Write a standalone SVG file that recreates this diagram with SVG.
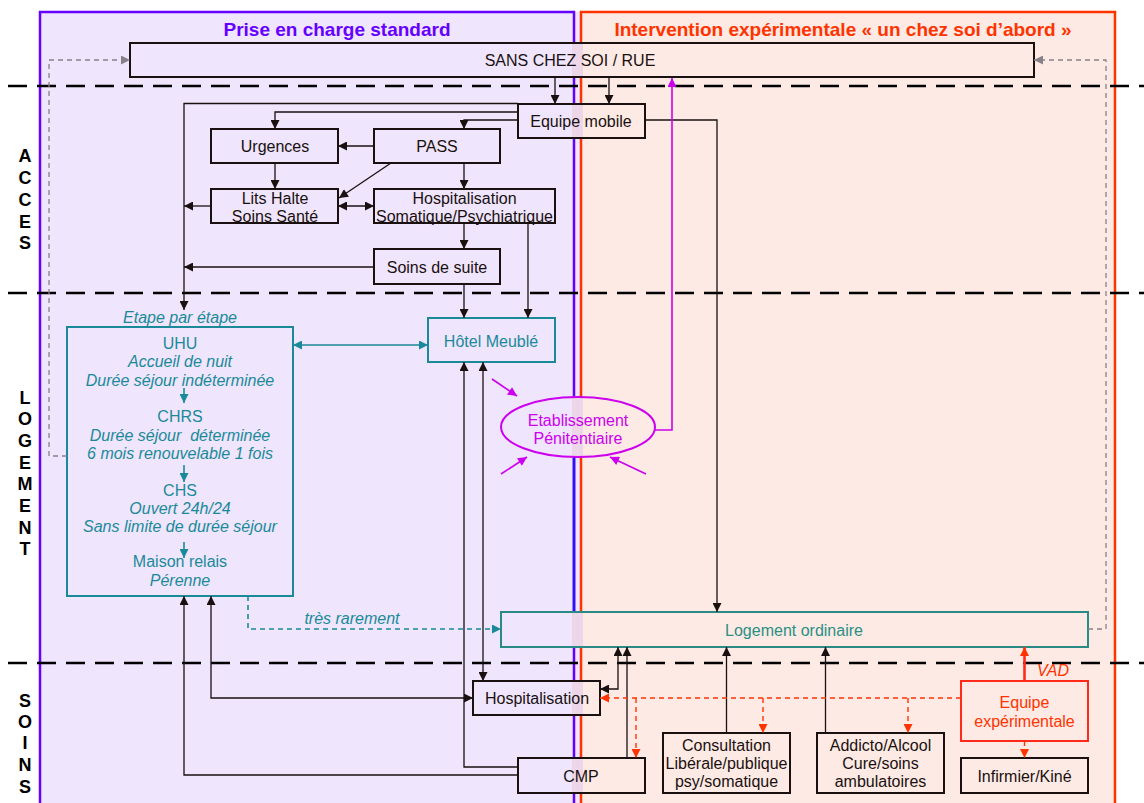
<svg xmlns="http://www.w3.org/2000/svg" width="1144" height="803" viewBox="0 0 1144 803">
<style>
  text { font-family: "Liberation Sans", Arial, sans-serif; font-size: 16px; text-anchor: middle; }
  .box { fill: none; stroke: #1a1010; stroke-width: 2; }
  .span { fill: url(#span); stroke: #1a1010; stroke-width: 2; }
  .tl { fill: #1a8a9a; }
  .it { font-style: italic; }
  .side { font-weight: bold; font-size: 18px; fill: #000; }
  .title { font-weight: bold; font-size: 19px; }
  .sep { stroke: #000; stroke-width: 2.5; stroke-dasharray: 19 10; fill: none; }
  .c { fill: none; stroke: #1a1010; stroke-width: 1.3; }
  .ca { fill: none; stroke: #1a1010; stroke-width: 1.3; marker-end: url(#ak); }
  .cd { fill: none; stroke: #1a1010; stroke-width: 1.3; marker-end: url(#ak); marker-start: url(#ak); }
  .teal { fill: none; stroke: #1a8a9a; stroke-width: 1.6; marker-end: url(#at); }
  .gray { fill: none; stroke: #888088; stroke-width: 1.3; stroke-dasharray: 5 4; }
  .mag { fill: none; stroke: #cc00ee; stroke-width: 1.6; marker-end: url(#am); }
  .red { fill: none; stroke: #ff3300; stroke-width: 1.4; stroke-dasharray: 5 4; marker-end: url(#ar); }
</style>
<defs>
  <linearGradient id="span" gradientUnits="userSpaceOnUse" x1="0" y1="0" x2="1144" y2="0">
    <stop offset="0" stop-color="#efe5fc"/>
    <stop offset="0.5004" stop-color="#efe5fc"/>
    <stop offset="0.5004" stop-color="#ecd6e8"/>
    <stop offset="0.5092" stop-color="#ecd6e8"/>
    <stop offset="0.5092" stop-color="#fdeae4"/>
    <stop offset="1" stop-color="#fdeae4"/>
  </linearGradient>
  <marker id="ak" viewBox="0 0 10 10" refX="10" refY="5" markerWidth="10" markerHeight="9" markerUnits="userSpaceOnUse" orient="auto-start-reverse"><path d="M0,0 L10,5 L0,10 z" fill="#1a1010"/></marker>
  <marker id="at" viewBox="0 0 10 10" refX="10" refY="5" markerWidth="10" markerHeight="9" markerUnits="userSpaceOnUse" orient="auto-start-reverse"><path d="M0,0 L10,5 L0,10 z" fill="#1a8a9a"/></marker>
  <marker id="am" viewBox="0 0 10 10" refX="10" refY="5" markerWidth="10" markerHeight="9" markerUnits="userSpaceOnUse" orient="auto-start-reverse"><path d="M0,0 L10,5 L0,10 z" fill="#cc00ee"/></marker>
  <marker id="ar" viewBox="0 0 10 10" refX="10" refY="5" markerWidth="10" markerHeight="9" markerUnits="userSpaceOnUse" orient="auto-start-reverse"><path d="M0,0 L10,5 L0,10 z" fill="#ff3300"/></marker>
  <marker id="ag" viewBox="0 0 10 10" refX="10" refY="5" markerWidth="10" markerHeight="9" markerUnits="userSpaceOnUse" orient="auto-start-reverse"><path d="M0,0 L10,5 L0,10 z" fill="#888088"/></marker>
</defs>
<rect width="1144" height="803" fill="#fff"/>

<g id="panels">
  <rect x="40" y="12" width="541" height="800" fill="#efe5fc"/>
  <rect x="581" y="12" width="534" height="800" fill="#fdeae4"/>
  <path d="M40,812 V12 H574 V812" fill="none" stroke="#6600ff" stroke-width="2.5"/>
  <line x1="574" y1="457" x2="574" y2="612" stroke="#2a10ff" stroke-width="2.6"/>
  <path d="M581,812 V12 H1115 V812" fill="none" stroke="#ff3300" stroke-width="2.5"/>
  <text class="title" x="337" y="36" fill="#6600ff">Prise en charge standard</text>
  <text class="title" x="843" y="36" fill="#ff3300">Intervention expérimentale « un chez soi d’abord »</text>
</g>

<g id="separators">
  <line class="sep" x1="8" y1="86" x2="1144" y2="86"/>
  <line class="sep" x1="8" y1="293" x2="1144" y2="293"/>
  <line class="sep" x1="8" y1="663" x2="1144" y2="663"/>
</g>

<g id="side-labels">
  <text class="side" x="25" y="161.5">A</text>
  <text class="side" x="25" y="183.5">C</text>
  <text class="side" x="25" y="205.5">C</text>
  <text class="side" x="25" y="227.5">E</text>
  <text class="side" x="25" y="248.5">S</text>
  <text class="side" x="25" y="403.5">L</text>
  <text class="side" x="25" y="424.5">O</text>
  <text class="side" x="25" y="446.5">G</text>
  <text class="side" x="25" y="468.5">E</text>
  <text class="side" x="25" y="489.5">M</text>
  <text class="side" x="25" y="511.5">E</text>
  <text class="side" x="25" y="533.5">N</text>
  <text class="side" x="25" y="554.5">T</text>
  <text class="side" x="25" y="706.5">S</text>
  <text class="side" x="25" y="727.5">O</text>
  <text class="side" x="25" y="748.5">I</text>
  <text class="side" x="25" y="770.5">N</text>
  <text class="side" x="25" y="792.5">S</text>
</g>

<g id="node-sans">
  <rect class="span" x="130" y="43" width="904" height="34"/>
  <text x="570" y="65.5" fill="#1a1010">SANS CHEZ SOI / RUE</text>
</g>
<g id="node-equipe-mobile">
  <rect class="span" x="518" y="104" width="127" height="34"/>
  <text x="581" y="126.5" fill="#1a1010">Equipe mobile</text>
</g>
<g id="node-urgences">
  <rect class="box" x="211" y="129" width="127" height="34"/>
  <text x="275" y="151.5" fill="#1a1010">Urgences</text>
</g>
<g id="node-pass">
  <rect class="box" x="374" y="129" width="126" height="34"/>
  <text x="437" y="151.5" fill="#1a1010">PASS</text>
</g>
<g id="node-lits-halte">
  <rect class="box" x="211" y="189" width="127" height="34"/>
  <text x="275" y="203.5" fill="#1a1010">Lits Halte</text>
  <text x="275" y="221.5" fill="#1a1010">Soins Santé</text>
</g>
<g id="node-hospit-somatique">
  <rect class="box" x="374" y="189" width="181" height="34"/>
  <text x="464.5" y="203.5" fill="#1a1010">Hospitalisation</text>
  <text x="464.5" y="221.5" fill="#1a1010">Somatique/Psychiatrique</text>
</g>
<g id="node-soins-suite">
  <rect class="box" x="374" y="249" width="126" height="35"/>
  <text x="437" y="272.5" fill="#1a1010">Soins de suite</text>
</g>

<g id="node-uhu">
  <text class="tl it" x="180" y="322.5">Etape par étape</text>
  <rect x="67" y="327" width="226" height="269" fill="none" stroke="#1a8a9a" stroke-width="2"/>
  <text class="tl" x="180" y="348.5">UHU</text>
  <text class="tl it" x="180" y="367">Accueil de nuit</text>
  <text class="tl it" x="180" y="385.5">Durée séjour indéterminée</text>
  <line class="teal" x1="184" y1="388" x2="184" y2="403"/>
  <text class="tl" x="180" y="422">CHRS</text>
  <text class="tl it" x="180" y="440.5" style="white-space:pre">Durée séjour  déterminée</text>
  <text class="tl it" x="180" y="458.5">6 mois renouvelable 1 fois</text>
  <line class="teal" x1="184" y1="465" x2="184" y2="482"/>
  <text class="tl" x="180" y="495.5">CHS</text>
  <text class="tl it" x="180" y="513.5">Ouvert 24h/24</text>
  <text class="tl it" x="180" y="531.5">Sans limite de durée séjour</text>
  <text class="tl" x="180" y="567">Maison relais</text>
  <line class="teal" x1="184" y1="542" x2="184" y2="558"/>
  <text class="tl it" x="180" y="586">Pérenne</text>
</g>

<g id="node-hotel">
  <rect x="428" y="318" width="127" height="44" fill="none" stroke="#1a8a9a" stroke-width="2"/>
  <text class="tl" x="491" y="346.5">Hôtel Meublé</text>
</g>

<g id="node-penitentiaire">
  <ellipse cx="578" cy="427" rx="77" ry="30" fill="url(#span)" stroke="#cc00ee" stroke-width="2"/>
  <text x="578" y="425.5" fill="#cc00ee">Etablissement</text>
  <text x="578" y="443.5" fill="#cc00ee">Pénitentiaire</text>
</g>

<g id="node-logement">
  <rect x="501" y="612" width="587" height="35" fill="url(#span)" stroke="#2a8a86" stroke-width="2"/>
  <text x="794" y="635.5" fill="#2a8f84">Logement ordinaire</text>
</g>

<g id="node-hospitalisation">
  <rect class="span" x="473" y="681" width="127" height="34"/>
  <text x="537" y="703.5" fill="#1a1010">Hospitalisation</text>
</g>
<g id="node-cmp">
  <rect class="span" x="518" y="758" width="127" height="35"/>
  <text x="581" y="781.5" fill="#1a1010">CMP</text>
</g>
<g id="node-consultation">
  <rect class="box" x="663" y="733" width="127" height="60"/>
  <text x="726.5" y="750.5" fill="#1a1010">Consultation</text>
  <text x="726.5" y="768.5" fill="#1a1010">Libérale/publique</text>
  <text x="726.5" y="786.5" fill="#1a1010">psy/somatique</text>
</g>
<g id="node-addicto">
  <rect class="box" x="817" y="733" width="127" height="60"/>
  <text x="880.5" y="750.5" fill="#1a1010">Addicto/Alcool</text>
  <text x="880.5" y="768.5" fill="#1a1010">Cure/soins</text>
  <text x="880.5" y="786.5" fill="#1a1010">ambulatoires</text>
</g>
<g id="node-equipe-exp">
  <rect x="961" y="681" width="127" height="60" fill="none" stroke="#ff2a1a" stroke-width="2"/>
  <text x="1024.5" y="707.5" fill="#ff3300">Equipe</text>
  <text x="1024.5" y="726.5" fill="#ff3300">expérimentale</text>
</g>
<g id="node-infirmier">
  <rect class="box" x="961" y="758" width="127" height="35"/>
  <text x="1024.5" y="781.5" fill="#1a1010">Infirmier/Kiné</text>
</g>

<g id="connectors">
  <path class="gray" d="M67,456 H49 V60 H130" marker-end="url(#ag)"/>
  <path class="gray" d="M1088,629 H1106 V60 H1034" marker-end="url(#ag)"/>
  <line class="ca" x1="555" y1="77" x2="555" y2="104"/>
  <line class="ca" x1="609" y1="77" x2="609" y2="104"/>
  <path class="ca" d="M518,103.5 H184 V310"/>
  <path class="ca" d="M518,112 H275 V129"/>
  <path class="ca" d="M518,120 H464 V129"/>
  <path class="ca" d="M645,120 H717 V612"/>
  <line class="ca" x1="374" y1="146" x2="338" y2="146"/>
  <line class="ca" x1="275" y1="163" x2="275" y2="189"/>
  <line class="ca" x1="391" y1="163" x2="339" y2="198"/>
  <line class="cd" x1="338" y1="206" x2="374" y2="206"/>
  <line class="ca" x1="464" y1="163" x2="464" y2="189"/>
  <line class="ca" x1="464" y1="223" x2="464" y2="249"/>
  <line class="ca" x1="211" y1="206" x2="184" y2="206"/>
  <line class="ca" x1="374" y1="267" x2="184" y2="267"/>
  <line class="ca" x1="464" y1="284" x2="464" y2="318"/>
  <line class="ca" x1="528" y1="223" x2="528" y2="318"/>
  <line class="teal" x1="293" y1="345" x2="428" y2="345" marker-start="url(#at)"/>
  <path class="teal" d="M248,596 V629 H501" stroke-dasharray="5 4" stroke-width="1.4"/>
  <text class="tl it" x="352" y="623.5">très rarement</text>
  <path class="mag" d="M655,430 H672 V78"/>
  <line class="mag" x1="492" y1="379" x2="517" y2="396"/>
  <line class="mag" x1="501" y1="474" x2="527" y2="457"/>
  <line class="mag" x1="646" y1="474" x2="610" y2="457"/>
  <path class="ca" d="M518,775 H184 V596"/>
  <path class="ca" d="M518,767 H464 V362"/>
  <line class="cd" x1="483" y1="362" x2="483" y2="681"/>
  <path class="cd" d="M211,596 V698 H473"/>
  <path class="cd" d="M600,689 H618 V647"/>
  <line class="ca" x1="627" y1="758" x2="627" y2="647"/>
  <line class="ca" x1="726.5" y1="733" x2="726.5" y2="647"/>
  <line class="ca" x1="825.5" y1="733" x2="825.5" y2="647"/>
  <path class="red" d="M961,698 H600"/>
  <path class="red" d="M636,698 V758"/>
  <path class="red" d="M763,698 V733"/>
  <path class="red" d="M908,698 V733"/>
  <line class="red" x1="1024.5" y1="741" x2="1024.5" y2="758"/>
  <line x1="1024.5" y1="681" x2="1024.5" y2="647" stroke="#ff2a1a" stroke-width="2.6" marker-end="url(#ar)"/>
  <text x="1053" y="675.5" fill="#ff3300" class="it">VAD</text>
</g>
</svg>
